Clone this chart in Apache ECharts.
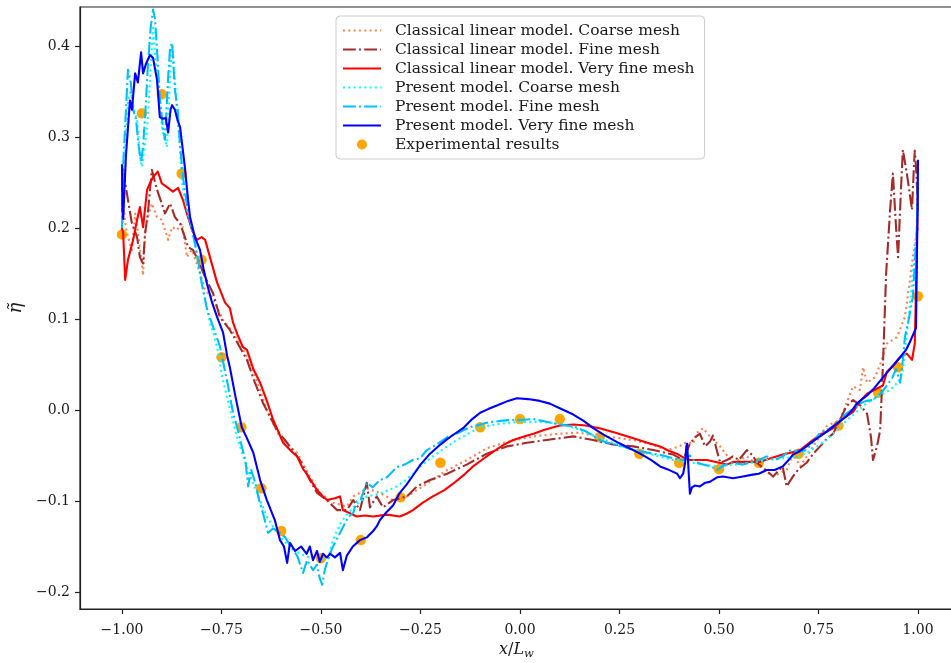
<!DOCTYPE html>
<html><head><meta charset="utf-8">
<script src="https://cdn.jsdelivr.net/npm/echarts@6/dist/echarts.min.js"></script>
<style>html,body{margin:0;padding:0;background:#fff}#c{width:951px;height:663px}</style>
</head><body><div id="c"></div>
<script>
const xTicks = [-1, -0.75, -0.5, -0.25, 0, 0.25, 0.5, 0.75, 1];
const yTicks = [-0.2, -0.1, 0, 0.1, 0.2, 0.3, 0.4];
const names = [
  'Classical linear model. Coarse mesh',
  'Classical linear model. Fine mesh',
  'Classical linear model. Very fine mesh',
  'Present model. Coarse mesh',
  'Present model. Fine mesh',
  'Present model. Very fine mesh',
  'Experimental results'
];

const clCoarse = [[-1.0,0.2],[-0.995,0.22],[-0.99,0.2],[-0.985,0.19],[-0.975,0.176],[-0.967,0.216],[-0.958,0.19],[-0.947,0.148],[-0.942,0.194],[-0.935,0.212],[-0.925,0.227],[-0.912,0.212],[-0.9,0.209],[-0.892,0.198],[-0.884,0.187],[-0.874,0.201],[-0.862,0.198],[-0.849,0.205],[-0.837,0.168],[-0.824,0.176],[-0.809,0.157],[-0.791,0.132],[-0.774,0.124],[-0.761,0.113],[-0.746,0.099],[-0.721,0.085],[-0.7,0.07],[-0.678,0.052],[-0.655,0.025],[-0.636,0.0],[-0.603,-0.03],[-0.58,-0.04],[-0.56,-0.047],[-0.528,-0.073],[-0.503,-0.091],[-0.47,-0.102],[-0.435,-0.106],[-0.419,-0.095],[-0.402,-0.091],[-0.385,-0.086],[-0.352,-0.091],[-0.319,-0.099],[-0.284,-0.095],[-0.234,-0.081],[-0.183,-0.066],[-0.134,-0.055],[-0.083,-0.042],[-0.033,-0.035],[0.034,-0.029],[0.1,-0.026],[0.15,-0.025],[0.184,-0.028],[0.234,-0.03],[0.285,-0.033],[0.33,-0.038],[0.369,-0.044],[0.4,-0.04],[0.42,-0.035],[0.435,-0.037],[0.444,-0.025],[0.46,-0.02],[0.477,-0.029],[0.503,-0.04],[0.52,-0.05],[0.535,-0.058],[0.57,-0.051],[0.603,-0.062],[0.636,-0.073],[0.67,-0.066],[0.686,-0.048],[0.704,-0.062],[0.737,-0.04],[0.77,-0.018],[0.804,-0.011],[0.82,0.007],[0.837,0.026],[0.854,0.022],[0.862,0.047],[0.872,0.03],[0.892,0.036],[0.905,0.05],[0.922,0.073],[0.947,0.08],[0.967,0.102],[0.98,0.143],[0.987,0.168],[0.995,0.19],[1.0,0.2]];

const clFine = [[-1.0,0.24],[-0.997,0.264],[-0.985,0.231],[-0.975,0.205],[-0.962,0.19],[-0.955,0.168],[-0.947,0.161],[-0.942,0.194],[-0.935,0.216],[-0.925,0.264],[-0.912,0.242],[-0.9,0.227],[-0.892,0.216],[-0.879,0.227],[-0.867,0.212],[-0.854,0.205],[-0.842,0.19],[-0.834,0.179],[-0.822,0.176],[-0.809,0.165],[-0.791,0.146],[-0.771,0.128],[-0.754,0.102],[-0.729,0.088],[-0.709,0.073],[-0.686,0.055],[-0.666,0.03],[-0.646,0.008],[-0.611,-0.022],[-0.585,-0.036],[-0.553,-0.055],[-0.528,-0.077],[-0.51,-0.091],[-0.485,-0.099],[-0.46,-0.11],[-0.435,-0.11],[-0.419,-0.099],[-0.402,-0.11],[-0.385,-0.08],[-0.377,-0.107],[-0.36,-0.095],[-0.344,-0.107],[-0.319,-0.099],[-0.284,-0.095],[-0.259,-0.084],[-0.226,-0.077],[-0.183,-0.07],[-0.134,-0.06],[-0.083,-0.048],[-0.033,-0.04],[0.017,-0.036],[0.067,-0.033],[0.1,-0.031],[0.134,-0.029],[0.184,-0.033],[0.234,-0.038],[0.285,-0.04],[0.335,-0.044],[0.385,-0.049],[0.41,-0.055],[0.427,-0.037],[0.44,-0.03],[0.452,-0.026],[0.465,-0.04],[0.477,-0.035],[0.485,-0.028],[0.495,-0.045],[0.503,-0.058],[0.52,-0.055],[0.535,-0.051],[0.55,-0.055],[0.57,-0.044],[0.585,-0.05],[0.595,-0.058],[0.615,-0.065],[0.636,-0.073],[0.66,-0.062],[0.67,-0.084],[0.686,-0.073],[0.7,-0.065],[0.72,-0.058],[0.737,-0.048],[0.754,-0.04],[0.77,-0.032],[0.787,-0.026],[0.805,-0.01],[0.82,0.004],[0.837,0.011],[0.855,0.005],[0.872,-0.004],[0.882,-0.03],[0.887,-0.055],[0.897,-0.04],[0.905,-0.022],[0.912,0.05],[0.92,0.15],[0.93,0.22],[0.937,0.26],[0.945,0.2],[0.95,0.168],[0.957,0.24],[0.962,0.286],[0.972,0.26],[0.985,0.22],[0.99,0.27],[0.992,0.285],[0.996,0.26],[1.0,0.22]];

const clVeryFine = [[-1.0,0.2],[-0.997,0.194],[-0.992,0.143],[-0.985,0.165],[-0.972,0.187],[-0.962,0.209],[-0.955,0.223],[-0.947,0.201],[-0.937,0.242],[-0.93,0.249],[-0.922,0.256],[-0.91,0.262],[-0.9,0.249],[-0.887,0.245],[-0.872,0.24],[-0.859,0.244],[-0.847,0.231],[-0.837,0.216],[-0.824,0.198],[-0.812,0.187],[-0.8,0.19],[-0.791,0.187],[-0.779,0.168],[-0.761,0.14],[-0.741,0.118],[-0.729,0.112],[-0.721,0.096],[-0.71,0.083],[-0.696,0.069],[-0.686,0.066],[-0.67,0.045],[-0.653,0.03],[-0.636,0.01],[-0.62,-0.011],[-0.595,-0.036],[-0.575,-0.045],[-0.56,-0.051],[-0.545,-0.065],[-0.536,-0.07],[-0.51,-0.088],[-0.495,-0.095],[-0.485,-0.099],[-0.465,-0.097],[-0.452,-0.095],[-0.445,-0.11],[-0.43,-0.113],[-0.41,-0.117],[-0.39,-0.116],[-0.369,-0.117],[-0.334,-0.115],[-0.302,-0.117],[-0.285,-0.114],[-0.269,-0.11],[-0.245,-0.102],[-0.219,-0.095],[-0.19,-0.088],[-0.168,-0.081],[-0.14,-0.071],[-0.118,-0.062],[-0.09,-0.053],[-0.068,-0.046],[-0.04,-0.038],[-0.017,-0.033],[0.01,-0.029],[0.034,-0.026],[0.06,-0.022],[0.084,-0.019],[0.1,-0.017],[0.134,-0.016],[0.165,-0.017],[0.2,-0.02],[0.24,-0.025],[0.285,-0.031],[0.32,-0.036],[0.352,-0.04],[0.375,-0.045],[0.394,-0.048],[0.41,-0.052],[0.427,-0.055],[0.45,-0.055],[0.47,-0.055],[0.5,-0.058],[0.52,-0.06],[0.535,-0.057],[0.57,-0.057],[0.603,-0.057],[0.63,-0.053],[0.66,-0.049],[0.68,-0.047],[0.704,-0.044],[0.73,-0.035],[0.754,-0.027],[0.77,-0.024],[0.787,-0.02],[0.81,-0.01],[0.837,-0.002],[0.855,0.01],[0.872,0.018],[0.89,0.022],[0.912,0.027],[0.922,0.042],[0.94,0.05],[0.955,0.058],[0.972,0.062],[0.985,0.055],[0.992,0.073],[0.995,0.132],[0.998,0.2],[1.0,0.25]];

const pmCoarse = [[-1.0,0.22],[-0.995,0.26],[-0.99,0.3],[-0.985,0.34],[-0.978,0.35],[-0.97,0.33],[-0.962,0.319],[-0.955,0.278],[-0.95,0.267],[-0.943,0.29],[-0.937,0.308],[-0.93,0.36],[-0.922,0.42],[-0.915,0.38],[-0.905,0.33],[-0.897,0.304],[-0.887,0.289],[-0.88,0.36],[-0.874,0.403],[-0.868,0.37],[-0.862,0.33],[-0.854,0.286],[-0.849,0.249],[-0.837,0.22],[-0.822,0.194],[-0.809,0.161],[-0.796,0.132],[-0.779,0.096],[-0.771,0.085],[-0.761,0.069],[-0.75,0.04],[-0.736,0.014],[-0.711,-0.03],[-0.686,-0.063],[-0.661,-0.091],[-0.636,-0.117],[-0.611,-0.135],[-0.595,-0.143],[-0.578,-0.15],[-0.555,-0.157],[-0.536,-0.161],[-0.52,-0.163],[-0.503,-0.165],[-0.482,-0.163],[-0.47,-0.143],[-0.452,-0.125],[-0.435,-0.115],[-0.419,-0.107],[-0.4,-0.1],[-0.385,-0.095],[-0.352,-0.092],[-0.33,-0.088],[-0.31,-0.084],[-0.29,-0.078],[-0.269,-0.07],[-0.245,-0.06],[-0.219,-0.051],[-0.19,-0.042],[-0.158,-0.033],[-0.13,-0.026],[-0.1,-0.019],[-0.05,-0.015],[0.0,-0.013],[0.05,-0.013],[0.1,-0.015],[0.14,-0.02],[0.18,-0.027],[0.22,-0.034],[0.26,-0.04],[0.3,-0.045],[0.34,-0.05],[0.385,-0.055],[0.42,-0.057],[0.46,-0.06],[0.5,-0.062],[0.54,-0.06],[0.58,-0.058],[0.62,-0.055],[0.66,-0.053],[0.704,-0.051],[0.74,-0.042],[0.77,-0.033],[0.8,-0.02],[0.83,-0.008],[0.87,0.007],[0.9,0.015],[0.93,0.022],[0.955,0.033],[0.962,0.044],[0.975,0.095],[0.987,0.15],[0.997,0.198],[1.0,0.23]];

const pmFine = [[-1.0,0.2],[-0.997,0.27],[-0.99,0.33],[-0.985,0.374],[-0.978,0.36],[-0.972,0.33],[-0.965,0.32],[-0.958,0.29],[-0.952,0.272],[-0.947,0.29],[-0.942,0.322],[-0.935,0.377],[-0.928,0.42],[-0.922,0.44],[-0.917,0.43],[-0.912,0.396],[-0.905,0.344],[-0.897,0.31],[-0.892,0.297],[-0.888,0.33],[-0.884,0.366],[-0.879,0.399],[-0.874,0.403],[-0.867,0.352],[-0.86,0.33],[-0.854,0.29],[-0.845,0.25],[-0.835,0.22],[-0.825,0.2],[-0.815,0.18],[-0.809,0.165],[-0.8,0.14],[-0.786,0.11],[-0.77,0.09],[-0.754,0.07],[-0.735,0.03],[-0.721,-0.003],[-0.71,-0.02],[-0.699,-0.04],[-0.69,-0.055],[-0.683,-0.084],[-0.676,-0.065],[-0.665,-0.08],[-0.655,-0.1],[-0.646,-0.113],[-0.633,-0.135],[-0.62,-0.13],[-0.603,-0.135],[-0.59,-0.14],[-0.57,-0.154],[-0.56,-0.16],[-0.545,-0.179],[-0.535,-0.165],[-0.52,-0.176],[-0.51,-0.17],[-0.503,-0.185],[-0.497,-0.192],[-0.49,-0.175],[-0.485,-0.168],[-0.47,-0.15],[-0.458,-0.14],[-0.445,-0.129],[-0.432,-0.118],[-0.419,-0.113],[-0.41,-0.1],[-0.4,-0.098],[-0.385,-0.08],[-0.37,-0.085],[-0.352,-0.077],[-0.334,-0.074],[-0.31,-0.063],[-0.29,-0.06],[-0.269,-0.055],[-0.251,-0.053],[-0.234,-0.044],[-0.21,-0.038],[-0.183,-0.03],[-0.155,-0.025],[-0.126,-0.019],[-0.1,-0.016],[-0.083,-0.014],[-0.05,-0.012],[-0.025,-0.011],[0.0,-0.011],[0.034,-0.01],[0.067,-0.013],[0.1,-0.016],[0.134,-0.018],[0.168,-0.024],[0.2,-0.033],[0.234,-0.038],[0.26,-0.04],[0.284,-0.044],[0.31,-0.046],[0.334,-0.048],[0.36,-0.05],[0.385,-0.053],[0.41,-0.055],[0.427,-0.05],[0.44,-0.057],[0.46,-0.06],[0.48,-0.062],[0.495,-0.066],[0.515,-0.06],[0.535,-0.058],[0.56,-0.06],[0.585,-0.057],[0.6,-0.055],[0.62,-0.051],[0.64,-0.055],[0.66,-0.051],[0.675,-0.045],[0.686,-0.044],[0.7,-0.046],[0.72,-0.044],[0.737,-0.035],[0.754,-0.025],[0.77,-0.022],[0.787,-0.018],[0.805,-0.01],[0.82,-0.004],[0.84,0.002],[0.854,0.007],[0.87,0.01],[0.887,0.011],[0.91,0.02],[0.935,0.035],[0.945,0.045],[0.955,0.03],[0.962,0.055],[0.967,0.08],[0.977,0.1],[0.987,0.124],[0.997,0.198],[1.0,0.26]];

const pmVeryFine = [[-1.0,0.27],[-0.999,0.22],[-0.997,0.21],[-0.99,0.28],[-0.98,0.34],[-0.975,0.33],[-0.967,0.37],[-0.96,0.36],[-0.952,0.393],[-0.947,0.37],[-0.94,0.38],[-0.93,0.39],[-0.922,0.387],[-0.912,0.363],[-0.905,0.322],[-0.897,0.32],[-0.89,0.321],[-0.884,0.305],[-0.878,0.33],[-0.874,0.335],[-0.867,0.33],[-0.86,0.318],[-0.854,0.311],[-0.842,0.267],[-0.834,0.231],[-0.829,0.212],[-0.817,0.19],[-0.804,0.176],[-0.795,0.155],[-0.786,0.138],[-0.775,0.12],[-0.761,0.102],[-0.746,0.085],[-0.736,0.06],[-0.729,0.047],[-0.715,0.015],[-0.699,-0.019],[-0.685,-0.032],[-0.67,-0.047],[-0.653,-0.077],[-0.636,-0.099],[-0.616,-0.121],[-0.603,-0.143],[-0.593,-0.15],[-0.585,-0.168],[-0.578,-0.146],[-0.565,-0.155],[-0.55,-0.15],[-0.536,-0.158],[-0.528,-0.15],[-0.52,-0.165],[-0.51,-0.155],[-0.503,-0.167],[-0.495,-0.158],[-0.485,-0.162],[-0.477,-0.158],[-0.465,-0.162],[-0.452,-0.157],[-0.445,-0.176],[-0.435,-0.16],[-0.42,-0.15],[-0.402,-0.143],[-0.385,-0.14],[-0.369,-0.133],[-0.36,-0.128],[-0.352,-0.121],[-0.335,-0.112],[-0.319,-0.105],[-0.302,-0.091],[-0.285,-0.082],[-0.269,-0.072],[-0.25,-0.06],[-0.226,-0.048],[-0.2,-0.038],[-0.183,-0.032],[-0.16,-0.025],[-0.143,-0.02],[-0.12,-0.01],[-0.1,-0.003],[-0.08,0.001],[-0.058,0.005],[-0.03,0.01],[-0.008,0.013],[0.02,0.012],[0.05,0.01],[0.075,0.007],[0.1,0.002],[0.134,-0.005],[0.16,-0.012],[0.184,-0.02],[0.21,-0.027],[0.243,-0.035],[0.27,-0.041],[0.302,-0.048],[0.33,-0.055],[0.352,-0.062],[0.37,-0.065],[0.385,-0.068],[0.395,-0.07],[0.402,-0.075],[0.41,-0.07],[0.415,-0.058],[0.418,-0.04],[0.42,-0.037],[0.424,-0.07],[0.427,-0.092],[0.432,-0.085],[0.44,-0.083],[0.452,-0.084],[0.465,-0.08],[0.477,-0.079],[0.495,-0.074],[0.51,-0.073],[0.535,-0.075],[0.56,-0.073],[0.585,-0.071],[0.6,-0.07],[0.62,-0.066],[0.64,-0.066],[0.66,-0.062],[0.675,-0.055],[0.686,-0.049],[0.7,-0.046],[0.72,-0.04],[0.737,-0.034],[0.754,-0.029],[0.77,-0.024],[0.787,-0.018],[0.805,-0.012],[0.82,-0.007],[0.835,0.0],[0.846,0.007],[0.86,0.012],[0.872,0.016],[0.89,0.024],[0.905,0.032],[0.92,0.04],[0.94,0.05],[0.955,0.058],[0.97,0.066],[0.98,0.075],[0.99,0.085],[0.995,0.09],[0.997,0.16],[0.999,0.22],[1.0,0.275]];

const expX = [-1.0,-0.95,-0.9,-0.85,-0.8,-0.75,-0.7,-0.65,-0.6,-0.5,-0.4,-0.3,-0.2,-0.1,0.0,0.1,0.2,0.3,0.4,0.5,0.6,0.7,0.8,0.9,0.95,1.0];
const expY = [0.193,0.326,0.347,0.26,0.165,0.058,-0.019,-0.086,-0.133,-0.163,-0.143,-0.096,-0.058,-0.019,-0.01,-0.01,-0.03,-0.048,-0.058,-0.065,-0.058,-0.048,-0.017,0.019,0.047,0.125];

const FONT = 'DejaVu Serif';
const INK = '#1a1a1a';
const minus = s => s.replace('-', '\u2212');

const lineDefs = [
  {name: names[0], data: clCoarse, color: '#ff7f50', type: [2, 3.3]},
  {name: names[1], data: clFine, color: '#a52a2a', type: [12.8, 3.2, 2, 3.2]},
  {name: names[2], data: clVeryFine, color: '#ff0000', type: 'solid'},
  {name: names[3], data: pmCoarse, color: '#00ffff', type: [2, 3.3]},
  {name: names[4], data: pmFine, color: '#00bfff', type: [12.8, 3.2, 2, 3.2]},
  {name: names[5], data: pmVeryFine, color: '#0000ff', type: 'solid'}
];

const series = lineDefs.map((d, i) => ({
  name: d.name, type: 'line', data: d.data, symbol: 'none', showSymbol: false,
  z: 3 + i, animation: false, clip: true,
  lineStyle: {color: d.color, width: 2.1, type: d.type, cap: 'butt', join: 'round'},
  itemStyle: {color: d.color}
}));
series.push({
  name: names[6], type: 'scatter', z: 2, animation: false,
  data: expX.map((x, i) => [x, expY[i]]),
  symbol: 'circle', symbolSize: 10.5,
  itemStyle: {color: '#ffa500', opacity: 1}
});

const chart = echarts.init(document.getElementById('c'), null, {renderer: 'canvas'});
chart.setOption({
  backgroundColor: '#fff',
  animation: false,
  grid: {left: 80, top: 7, right: -2, bottom: 54, show: true, borderColor: '#222', borderWidth: 1.2,
    backgroundColor: 'transparent', containLabel: false, outerBoundsMode: 'none'},
  legend: {
    orient: 'vertical', left: 336, top: 16,
    itemWidth: 38, itemHeight: 10, itemGap: 2,
    padding: [6, 10, 6, 6],
    backgroundColor: '#fff', borderColor: '#cccccc', borderWidth: 1, borderRadius: 4,
    textStyle: {fontFamily: FONT, fontSize: 15.5, lineHeight: 17, color: INK, padding: [0, 0, 0, 9]},
    data: names.slice(0, 6).map(n => ({name: n, itemStyle: {opacity: 0}})).concat([{name: names[6], icon: 'circle'}])
  },
  xAxis: {
    type: 'value', min: -1.1055, max: 1.088,
    axisLine: {show: true, onZero: false, lineStyle: {color: '#222', width: 1.2}},
    axisTick: {show: true, customValues: xTicks, length: 5, lineStyle: {color: '#222', width: 1.2}},
    axisLabel: {customValues: xTicks, margin: 14, fontFamily: FONT, fontSize: 14, color: INK,
      formatter: v => minus(Number(v).toFixed(2))},
    splitLine: {show: false},
    name: '{i|x}/{i|L}{s|w}', nameLocation: 'middle', nameGap: 28,
    nameTextStyle: {fontFamily: FONT, fontSize: 16, color: INK,
      rich: {i: {fontFamily: FONT, fontStyle: 'italic', fontSize: 16, color: INK},
             s: {fontFamily: FONT, fontStyle: 'italic', fontSize: 11.5, color: INK, padding: [9, 0, 0, 0]}}}
  },
  yAxis: {
    type: 'value', min: -0.2187, max: 0.4429,
    axisLine: {show: true, onZero: false, lineStyle: {color: '#222', width: 1.2}},
    axisTick: {show: true, customValues: yTicks, length: 5, lineStyle: {color: '#222', width: 1.2}},
    axisLabel: {customValues: yTicks, margin: 10, fontFamily: FONT, fontSize: 14, color: INK,
      formatter: v => minus(Number(v).toFixed(1))},
    splitLine: {show: false},
    name: '\u03B7\u0303', nameLocation: 'middle', nameGap: 34, nameRotate: 90,
    nameTextStyle: {fontFamily: FONT, fontStyle: 'italic', fontSize: 18, color: INK}
  },
  series: series
});
</script>
</body></html>
